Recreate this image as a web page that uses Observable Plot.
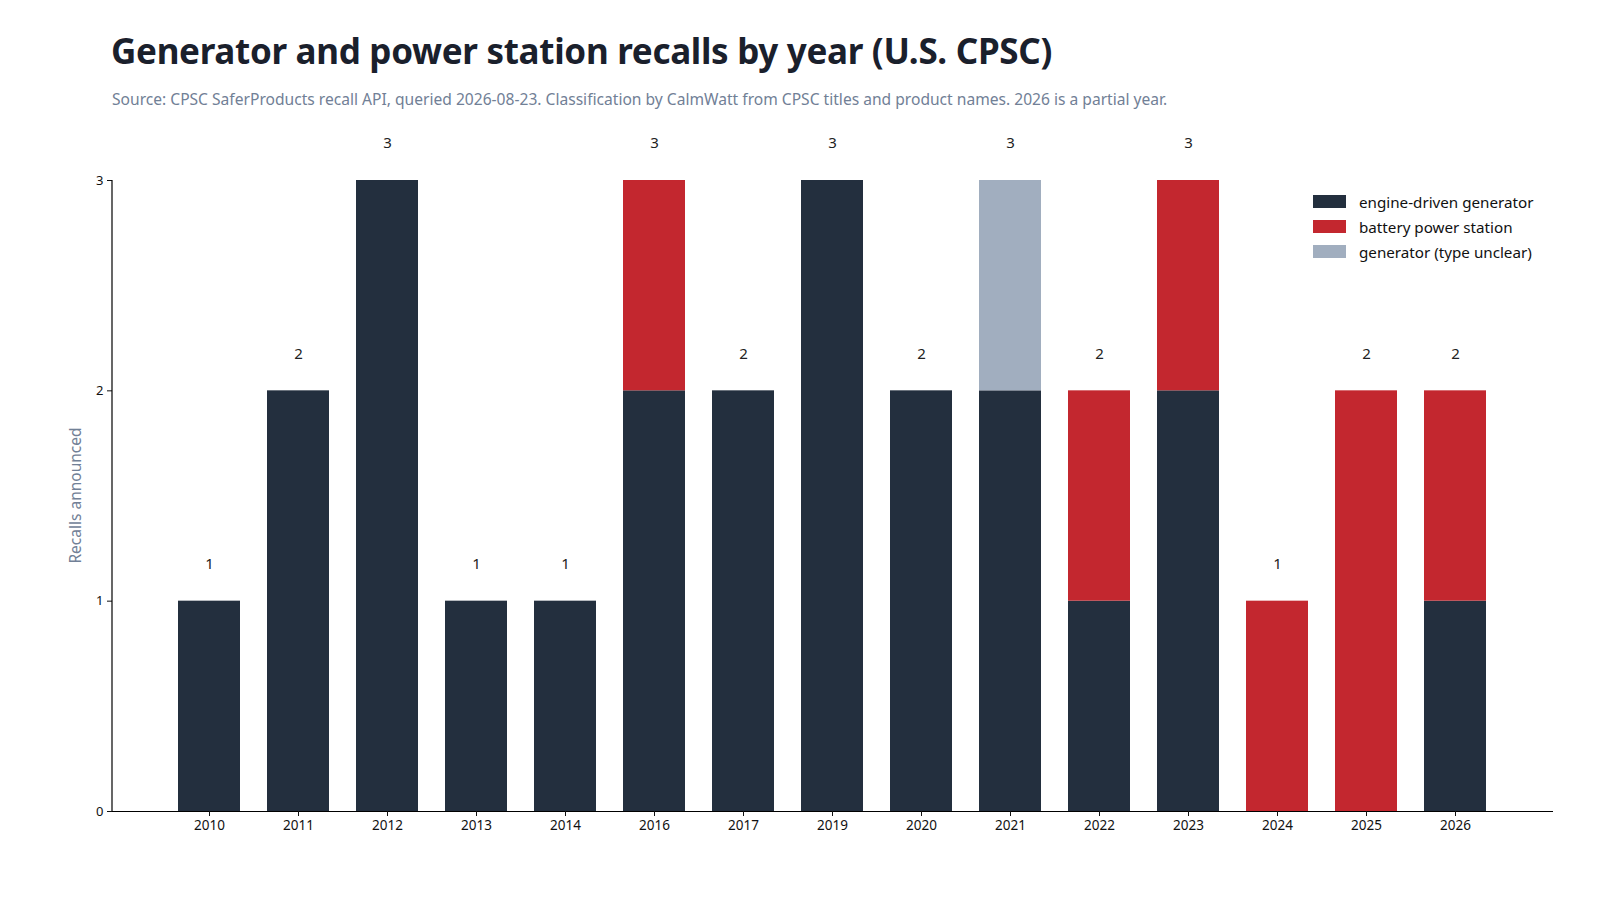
<!DOCTYPE html>
<html>
<head>
<meta charset="utf-8">
<script src="https://cdn.jsdelivr.net/npm/d3@7"></script>
<script src="https://cdn.jsdelivr.net/npm/@observablehq/plot@0.6"></script>
<style>
  html, body { margin: 0; padding: 0; background: #fff; }
  body { width: 1600px; height: 900px; position: relative; overflow: hidden; font-family: "Noto Sans", sans-serif; }
  #title { position: absolute; left: 111px; top: 27px; font-size: 35px; font-weight: 700; color: #1a202c; white-space: nowrap; letter-spacing: -0.3px; }
  #subtitle { position: absolute; left: 112px; top: 88px; font-size: 15.6px; color: #718096; white-space: nowrap; }
  #chart { position: absolute; left: 0; top: 120px; }
  #legend { position: absolute; left: 1313px; top: 189px; font-size: 15.2px; color: #111; }
  #legend .item { display: flex; align-items: center; height: 25px; }
  #legend .sw { width: 33px; height: 13px; margin-right: 13px; }
</style>
</head>
<body>
<div id="title">Generator and power station recalls by year (U.S. CPSC)</div>
<div id="subtitle">Source: CPSC SaferProducts recall API, queried 2026-08-23. Classification by CalmWatt from CPSC titles and product names. 2026 is a partial year.</div>
<div id="chart"></div>
<div id="legend"></div>
<script>
const years = ["2010","2011","2012","2013","2014","2016","2017","2019","2020","2021","2022","2023","2024","2025","2026"];
const engine  = [1,2,3,1,1,2,2,3,2,2,1,2,0,0,1];
const battery = [0,0,0,0,0,1,0,0,0,0,1,1,1,2,1];
const unclear = [0,0,0,0,0,0,0,0,0,1,0,0,0,0,0];
const categories = ["engine-driven generator", "battery power station", "generator (type unclear)"];
const colors = ["#232f3e", "#c3272f", "#a1aebf"];
const yTicks = [0, 1, 2, 3];

const series = [engine, battery, unclear];
const rows = [];
years.forEach((yr, i) => {
  series.forEach((s, k) => {
    if (s[i] > 0) rows.push({year: yr, cat: categories[k], count: s[i]});
  });
});
const totals = years.map((yr, i) => ({year: yr, total: engine[i] + battery[i] + unclear[i]}));

const chart = Plot.plot({
  width: 1600,
  height: 740,
  marginTop: 60,
  marginBottom: 49,
  marginLeft: 112,
  marginRight: 47,
  style: {fontFamily: "Noto Sans, sans-serif", fontSize: "13px", color: "#111"},
  x: {domain: years, paddingInner: 0.3, paddingOuter: 0.745, label: null},
  y: {domain: [0, 3], label: null},
  color: {domain: categories, range: colors},
  marks: [
    Plot.barY(rows, {x: "year", y: "count", fill: "cat"}),
    Plot.text(totals, {x: "year", y: "total", text: d => String(d.total), dy: -37, fontSize: 15, fill: "#222"}),
    Plot.ruleY([0], {stroke: "#000", strokeWidth: 1.2}),
    Plot.axisY({ticks: yTicks, tickFormat: d3.format("d"), tickSize: 5, tickPadding: 4, label: null, fontSize: 13, fill: "#111"}),
    Plot.axisX({tickSize: 5, tickPadding: 4, label: null, fontSize: 13.5, fill: "#111"})
  ]
});
document.getElementById("chart").appendChild(chart);

// Left axis line and rotated y label, positioned from Plot's own scales
const ys = chart.scale("y");
const svg = d3.select(chart);
svg.append("line")
  .attr("x1", 112).attr("x2", 112)
  .attr("y1", ys.apply(3)).attr("y2", ys.apply(0))
  .attr("stroke", "#000").attr("stroke-width", 1.2);
svg.append("text")
  .attr("transform", `translate(77,${(ys.apply(3) + ys.apply(0)) / 2}) rotate(-90)`)
  .attr("text-anchor", "middle")
  .attr("dominant-baseline", "middle")
  .attr("fill", "#718096")
  .attr("font-size", 15.5)
  .text("Recalls announced");

const legend = d3.select("#legend");
categories.forEach((c, i) => {
  const it = legend.append("div").attr("class", "item");
  it.append("div").attr("class", "sw").style("background", colors[i]);
  it.append("span").text(c);
});
</script>
</body>
</html>
